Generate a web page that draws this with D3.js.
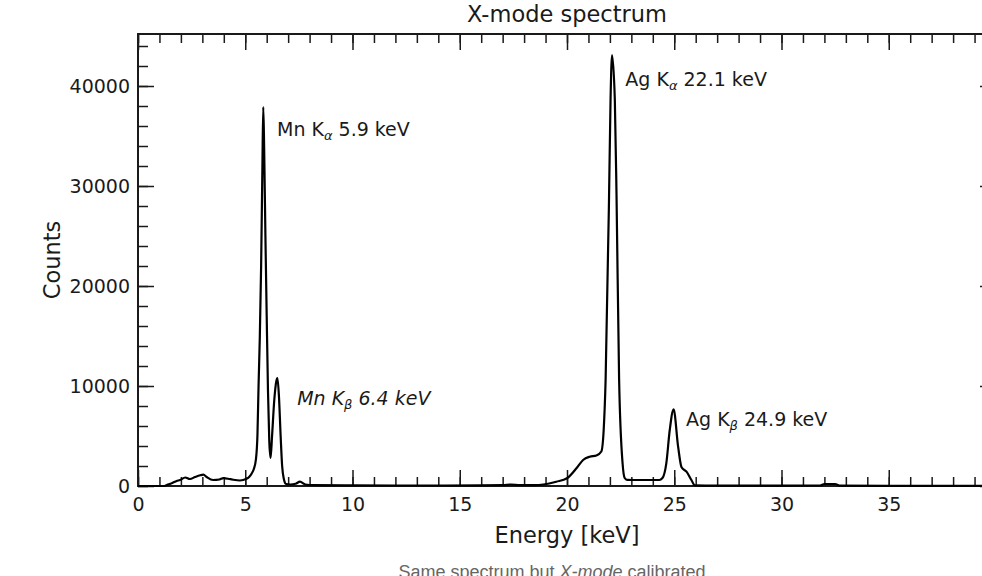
<!DOCTYPE html>
<html>
<head>
<meta charset="utf-8">
<script src="https://cdn.jsdelivr.net/npm/d3@7"></script>
<style>
  html, body { margin: 0; padding: 0; background: #fff; overflow: hidden; }
  svg { display: block; }
</style>
</head>
<body>
<div id="chart"></div>
<script>
// spectrum: energy in keV, counts
const energy = [0, 1.2, 1.34, 1.6, 1.8, 1.96, 2.2, 2.42, 2.66, 2.9, 3.05, 3.2, 3.5, 3.8, 3.98, 4.3, 4.75, 5.06, 5.2, 5.3, 5.4, 5.5,
  5.57, 5.62, 5.68, 5.74, 5.8, 5.84, 5.88, 5.94, 6.0, 6.06, 6.12, 6.18, 6.25, 6.35, 6.45, 6.5, 6.57, 6.65, 6.72, 6.8, 6.9,
  7.1, 7.35, 7.55, 7.8, 8.2, 10, 12, 14, 16, 17, 17.4, 17.8, 18.5, 18.9, 19.5, 20.0, 20.44, 20.75, 21.06, 21.37, 21.6, 21.71,
  21.8, 21.96, 22.03, 22.1, 22.23, 22.31, 22.43, 22.59, 22.69, 22.8, 23.5, 24.3, 24.45, 24.63, 24.79, 24.97, 25.18, 25.34,
  25.57, 25.8, 25.96, 27, 30, 31.8, 32.0, 32.5, 32.7, 35, 40];
const counts = [0, 0, 100, 300, 500, 600, 850, 700, 900, 1070, 1130, 900, 600, 650, 780, 680, 550, 720, 950, 1250, 1700, 2700,
  5200, 10000, 15000, 22000, 32000, 37900, 34000, 25000, 17000, 9500, 4500, 2800, 5000, 8500, 10500, 10800, 9000, 5000, 2000, 700, 200,
  150, 220, 430, 150, 80, 60, 50, 50, 60, 80, 150, 80, 80, 150, 430, 770, 1770, 2600, 2930, 3050, 3450, 5600,
  10600, 28900, 38600, 43100, 38600, 28900, 10600, 2300, 800, 620, 600, 600, 800, 2270, 5600, 7670, 3930, 1870,
  1430, 600, 60, 30, 30, 50, 200, 200, 40, 20, 20];

// labelled ticks (the 40 keV edge lies past the cropped right side)
const xTicks = [0, 5, 10, 15, 20, 25, 30, 35];
const yTicks = [0, 10000, 20000, 30000, 40000];

const peakLabels = [
  { name: "Mn K", sub: "α", rest: " 5.9 keV", e: 6.48, c: 35000, italic: false },
  { name: "Mn K", sub: "β", rest: " 6.4 keV", e: 7.42, c: 8100, italic: true },
  { name: "Ag K", sub: "α", rest: " 22.1 keV", e: 22.72, c: 40000, italic: false },
  { name: "Ag K", sub: "β", rest: " 24.9 keV", e: 25.55, c: 6000, italic: false }
];

const W = 982, H = 576;
const margin = { top: 34, left: 138 };
const width = 858, height = 452;
const ink = "#1a1a1a";
const font = "DejaVu Sans, sans-serif";

const svg = d3.select("#chart").append("svg")
  .attr("width", W).attr("height", H)
  .style("background", "#fff");

const g = svg.append("g").attr("transform", `translate(${margin.left},${margin.top})`);

const x = d3.scaleLinear().domain([0, 40]).range([0, width]);
const y = d3.scaleLinear().domain([0, 45200]).range([height, 0]);

const data = energy.map((e, i) => ({ e: e, c: counts[i] }));

// ticks, all pointing inward
function styleAxis(sel) {
  sel.select(".domain").remove();
  sel.selectAll(".tick line").attr("stroke", ink).attr("stroke-width", 1.5);
  sel.selectAll(".tick text").attr("fill", ink).style("font-family", font).style("font-size", "19px");
}

const xMinor = d3.range(0, 41, 1);
const yMinor = d3.range(0, 45001, 2000);

g.append("g").attr("transform", `translate(0,${height})`)
  .call(d3.axisBottom(x).tickValues(xMinor).tickSize(-9).tickFormat(""))
  .call(styleAxis);
g.append("g").attr("transform", `translate(0,${height})`)
  .call(d3.axisBottom(x).tickValues(xTicks).tickSize(-16).tickPadding(12).tickFormat(d3.format("d")))
  .call(styleAxis);
g.append("g")
  .call(d3.axisTop(x).tickValues(xMinor).tickSize(-9).tickFormat(""))
  .call(styleAxis);
g.append("g")
  .call(d3.axisTop(x).tickValues(xTicks).tickSize(-16).tickFormat(""))
  .call(styleAxis);

g.append("g")
  .call(d3.axisLeft(y).tickValues(yMinor).tickSize(-10).tickFormat(""))
  .call(styleAxis);
g.append("g")
  .call(d3.axisLeft(y).tickValues(yTicks).tickSize(-16).tickPadding(8).tickFormat(d3.format("d")))
  .call(styleAxis);
g.append("g").attr("transform", `translate(${width},0)`)
  .call(d3.axisRight(y).tickValues(yMinor).tickSize(-10).tickFormat(""))
  .call(styleAxis);
g.append("g").attr("transform", `translate(${width},0)`)
  .call(d3.axisRight(y).tickValues(yTicks).tickSize(-16).tickFormat(""))
  .call(styleAxis);

// frame
g.append("rect")
  .attr("x", 0).attr("y", 0).attr("width", width).attr("height", height)
  .attr("fill", "none").attr("stroke", ink).attr("stroke-width", 2);

// spectrum
const line = d3.line()
  .x(d => x(d.e))
  .y(d => y(d.c))
  .curve(d3.curveMonotoneX);

g.append("path")
  .datum(data)
  .attr("fill", "none")
  .attr("stroke", "#000")
  .attr("stroke-width", 2.2)
  .attr("stroke-linejoin", "round")
  .attr("d", line);

// peak labels
peakLabels.forEach(p => {
  const t = g.append("text")
    .attr("x", x(p.e)).attr("y", y(p.c))
    .attr("fill", ink)
    .style("font-family", font)
    .style("font-size", "19px")
    .style("font-style", p.italic ? "italic" : "normal");
  t.append("tspan").text(p.name);
  t.append("tspan").attr("dy", 4).style("font-size", "13px").style("font-style", "italic").text(p.sub);
  t.append("tspan").attr("dy", -4).text(p.rest);
});

// title and axis labels
svg.append("text")
  .attr("x", margin.left + width / 2).attr("y", 22)
  .attr("text-anchor", "middle").attr("fill", ink)
  .style("font-family", font).style("font-size", "22.5px")
  .text("X-mode spectrum");

svg.append("text")
  .attr("x", margin.left + width / 2).attr("y", 543)
  .attr("text-anchor", "middle").attr("fill", ink)
  .style("font-family", font).style("font-size", "22.5px")
  .text("Energy [keV]");

svg.append("text")
  .attr("transform", `translate(60,${margin.top + height / 2}) rotate(-90)`)
  .attr("text-anchor", "middle").attr("fill", ink)
  .style("font-family", font).style("font-size", "22.5px")
  .text("Counts");

// caption under the figure, cut by the bottom edge as in the reference
const cap = svg.append("text")
  .attr("x", 552).attr("y", 578)
  .attr("text-anchor", "middle").attr("fill", "#666")
  .style("font-family", "Liberation Sans, Arial, sans-serif").style("font-size", "18px");
cap.append("tspan").text("Same spectrum but ");
cap.append("tspan").style("font-style", "italic").text("X-mode");
cap.append("tspan").text(" calibrated");
</script>
</body>
</html>
